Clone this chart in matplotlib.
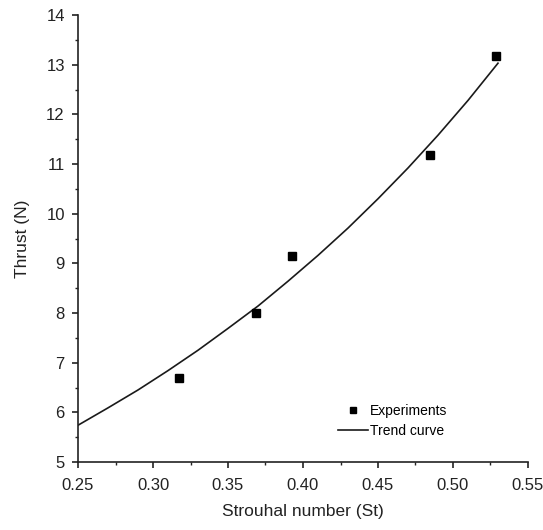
import matplotlib
matplotlib.use("Agg")
import matplotlib.pyplot as plt
from matplotlib.ticker import MultipleLocator, FormatStrFormatter

# Data
exp_st = [0.317, 0.369, 0.393, 0.485, 0.529]
exp_thrust = [6.70, 7.99, 9.14, 11.19, 13.17]

trend_st = [0.25, 0.27, 0.29, 0.31, 0.33, 0.35, 0.37, 0.39, 0.41, 0.43, 0.45, 0.47, 0.49, 0.51, 0.53]
trend_thrust = [5.74, 6.09, 6.45, 6.84, 7.25, 7.69, 8.14, 8.64, 9.16, 9.71, 10.30, 10.92, 11.58, 12.28, 13.03]

xticks = [0.25, 0.30, 0.35, 0.40, 0.45, 0.50, 0.55]
yticks = [5, 6, 7, 8, 9, 10, 11, 12, 13, 14]

font = ['Liberation Sans', 'DejaVu Sans']
plt.rcParams['font.family'] = font

fig = plt.figure(figsize=(5.43, 5.30), dpi=100)
ax = fig.add_axes([78/543, 1-462/530, 450/543, 447/530])

ax.plot(trend_st, trend_thrust, color='#1a1a1a', lw=1.2, label='Trend curve', zorder=2)
ax.plot(exp_st, exp_thrust, ls='none', marker='s', ms=5.8, color='black', label='Experiments', zorder=3)

ax.set_xlim(0.25, 0.55)
ax.set_ylim(5, 14)
ax.set_xticks(xticks)
ax.set_yticks(yticks)
ax.xaxis.set_major_formatter(FormatStrFormatter('%.2f'))
ax.xaxis.set_minor_locator(MultipleLocator(0.025))
ax.yaxis.set_minor_locator(MultipleLocator(0.5))

for s in ['top', 'right']:
    ax.spines[s].set_visible(False)
for s in ['left', 'bottom']:
    ax.spines[s].set_linewidth(1.2)
    ax.spines[s].set_color('#222222')

ax.tick_params(which='major', direction='out', length=4.5, width=1.2, labelsize=12, colors='#222222')
ax.tick_params(axis='x', which='major', pad=7)
ax.tick_params(axis='y', which='major', pad=5)
ax.tick_params(which='minor', direction='out', length=2.5, width=1.0, colors='#222222')

ax.set_xlabel('Strouhal number (St)', fontsize=12.5, labelpad=8, color='#222222')
ax.set_ylabel('Thrust (N)', fontsize=12.5, labelpad=12, color='#222222')

handles, labels = ax.get_legend_handles_labels()
leg = ax.legend(handles[::-1], labels[::-1], loc='upper left',
                bbox_to_anchor=(338/543, 1-404/530), bbox_transform=fig.transFigure,
                frameon=False, fontsize=10, handlelength=2.15, handletextpad=0.15,
                borderpad=0, borderaxespad=0, labelspacing=0.45, markerscale=0.85)

fig.savefig('out.png', dpi=100)
